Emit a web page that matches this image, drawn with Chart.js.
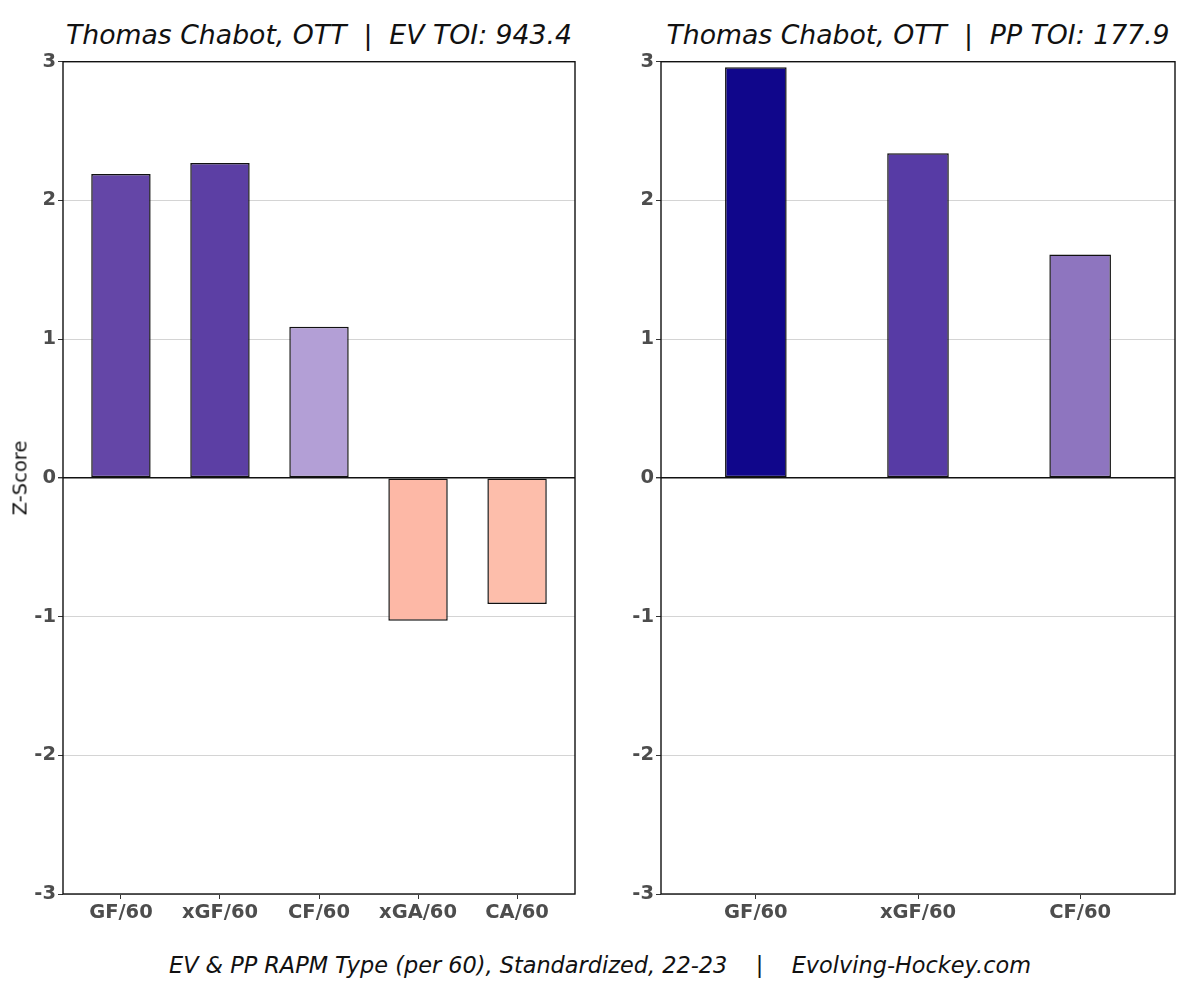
<!DOCTYPE html>
<html>
<head>
<meta charset="utf-8">
<script src="https://cdn.jsdelivr.net/npm/chart.js@4"></script>
<style>
  html, body { margin: 0; padding: 0; background: #fff; }
  #wrap { position: relative; width: 1200px; height: 988px; font-family: "DejaVu Sans", sans-serif; }
  .title { position: absolute; top: 19px; font-style: italic; font-size: 26.7px; color: #111; text-align: center; white-space: pre; }
  .cv { position: absolute; top: 48px; }
  #ylab { position: absolute; left: 20px; top: 478px; transform: translate(-50%, -50%) rotate(-90deg); font-size: 19.5px; color: #111; }
  #caption { position: absolute; left: 0; width: 1200px; top: 952px; text-align: center; font-style: italic; font-size: 22.4px; color: #111; white-space: pre; }
</style>
</head>
<body>
<div id="wrap">
  <div class="title" style="left:63px;width:512px;">Thomas Chabot, OTT  |  EV TOI: 943.4</div>
  <div class="title" style="left:661px;width:514px;">Thomas Chabot, OTT  |  PP TOI: 177.9</div>
  <div class="cv" style="left:0;width:590px;height:891px;"><canvas id="evChart"></canvas></div>
  <div class="cv" style="left:600px;width:600px;height:891px;"><canvas id="ppChart"></canvas></div>
  <div id="ylab">Z-Score</div>
  <div id="caption">EV &amp; PP RAPM Type (per 60), Standardized, 22-23    |    Evolving-Hockey.com</div>
</div>
<script>
// EV panel
const evLabels = ['GF/60', 'xGF/60', 'CF/60', 'xGA/60', 'CA/60'];
const evValues = [2.19, 2.27, 1.09, -1.03, -0.91];
const evColors = ['#6446a7', '#5c3fa4', '#b39fd6', '#fdb8a6', '#fdbeab'];

// PP panel
const ppLabels = ['GF/60', 'xGF/60', 'CF/60'];
const ppValues = [2.96, 2.34, 1.61];
const ppColors = ['#10068b', '#573ba5', '#8e75bf'];

const yTicks = [-3, -2, -1, 0, 1, 2, 3];

// draws the black box around the plot area
const frame = {
    id: 'frame',
    afterDatasetsDraw(chart) {
        const a = chart.chartArea, ctx = chart.ctx;
        ctx.save();
        ctx.strokeStyle = '#111';
        ctx.lineWidth = 1.4;
        ctx.strokeRect(a.left, a.top, a.right - a.left, a.bottom - a.top);
        ctx.restore();
    }
};

function makeChart(id, labels, values, colors, barPct, yWidth, padRight) {
    const n = labels.length;
    return new Chart(document.getElementById(id), {
        type: 'bar',
        data: {
            datasets: [{
                data: values.map((v, i) => ({ x: i, y: v })),
                backgroundColor: colors,
                borderColor: '#111',
                borderWidth: 1.5,
                borderSkipped: false,
                barPercentage: barPct,
                categoryPercentage: 1
            }]
        },
        options: {
            responsive: true,
            maintainAspectRatio: false,
            animation: false,
            layout: { padding: { top: 10, right: padRight, left: 0, bottom: 0 } },
            plugins: { legend: { display: false }, tooltip: { enabled: false } },
            scales: {
                x: {
                    type: 'linear',
                    offset: false,
                    min: -0.585,
                    max: n - 1 + 0.585,
                    afterBuildTicks: s => { s.ticks = labels.map((_, i) => ({ value: i })); },
                    afterFit: s => { s.height = 45; },
                    grid: { offset: false, drawOnChartArea: false, drawTicks: true, tickLength: 5, tickColor: '#333' },
                    border: { display: false },
                    ticks: {
                        autoSkip: false,
                        maxRotation: 0,
                        padding: 2,
                        color: '#4d4d4d',
                        font: { family: 'DejaVu Sans', size: 19.5, weight: 'bold' },
                        callback: v => labels[v]
                    }
                },
                y: {
                    min: -3,
                    max: 3,
                    afterBuildTicks: s => { s.ticks = yTicks.map(v => ({ value: v })); },
                    afterFit: s => { s.width = yWidth; },
                    grid: {
                        color: c => c.tick && c.tick.value === 0 ? '#111' : '#d4d4d4',
                        lineWidth: c => c.tick && c.tick.value === 0 ? 1.4 : 1,
                        tickLength: 5,
                        tickColor: '#333'
                    },
                    border: { display: false },
                    ticks: {
                        padding: 2,
                        color: '#4d4d4d',
                        font: { family: 'DejaVu Sans', size: 19.5, weight: 'bold' }
                    }
                }
            }
        },
        plugins: [frame]
    });
}

makeChart('evChart', evLabels, evValues, evColors, 0.6, 63, 15);
makeChart('ppChart', ppLabels, ppValues, ppColors, 0.38, 61, 25);
</script>
</body>
</html>
